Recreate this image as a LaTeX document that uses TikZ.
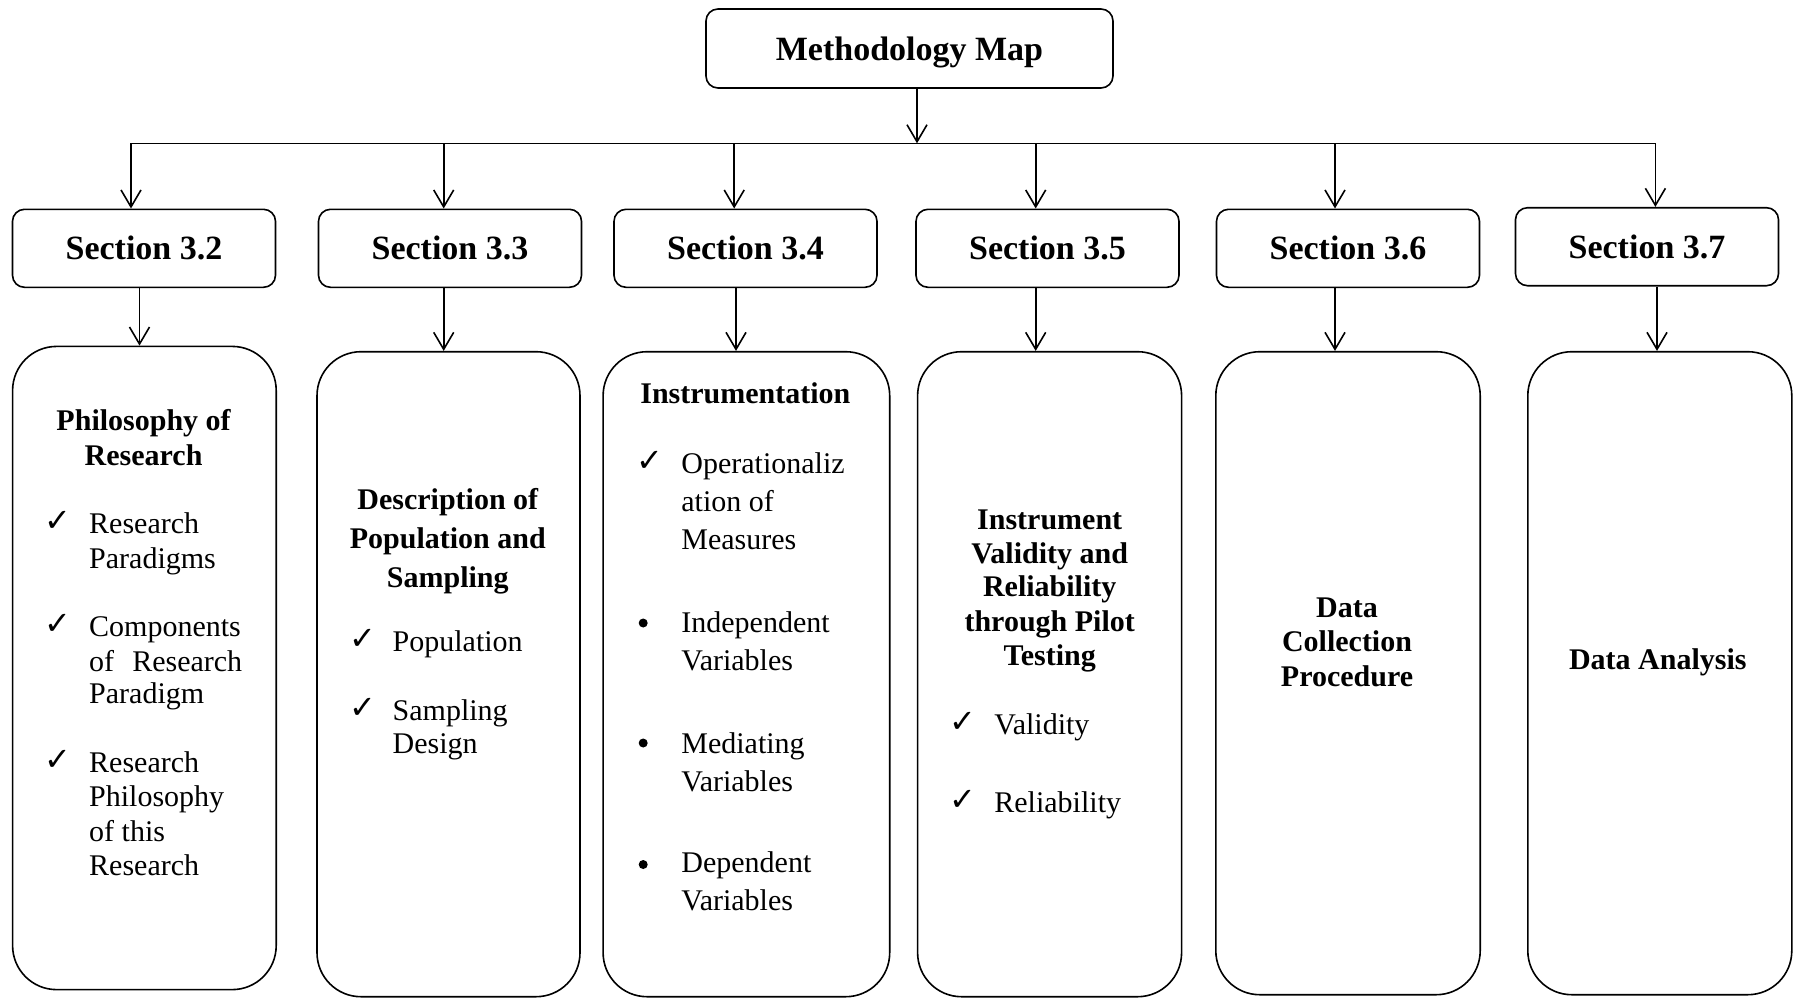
\documentclass[tikz,border=0pt]{standalone}
\usepackage{fontspec}
\setmainfont{Liberation Serif}
\newfontfamily\symfont{DejaVu Sans}
\usetikzlibrary{arrows.meta}
\tikzset{
 ln/.style={line width=0.8pt, draw=black},
 arr/.style={ln, -{Straight Barb[length=8.5pt,width=10pt]}},
 secbox/.style={draw, line width=0.8pt, rounded corners=6pt, minimum width=131.5pt, minimum height=39pt, inner sep=0pt, font=\fontsize{17}{20}\selectfont\bfseries},
 bigbox/.style={draw, line width=0.8pt, rounded corners=22pt, inner sep=0pt},
 head/.style={anchor=base, inner sep=0pt, font=\fontsize{15}{18}\selectfont\bfseries},
 itm/.style={anchor=base west, inner sep=0pt, font=\fontsize{15}{18}\selectfont},
 chk/.style={anchor=base west, inner sep=0pt, font=\fontsize{16}{18}\symfont},
 dot/.style={circle, fill=black, inner sep=0pt, minimum size=4.5pt},
}
\begin{document}
\begin{tikzpicture}[x=0.5pt, y=-0.5pt]
\useasboundingbox (0,0) rectangle (1794,998);

% top
\node[secbox, minimum width=203.5pt, minimum height=39.5pt, text depth=0pt] (top) at (909.5,48.5) {Methodology Map};

% sections
\node[secbox] (s32) at (144,248.3) {Section 3.2};
\node[secbox] (s33) at (450,248.3) {Section 3.3};
\node[secbox] (s34) at (745.5,248.3) {Section 3.4};
\node[secbox] (s35) at (1047.5,248.3) {Section 3.5};
\node[secbox] (s36) at (1348,248.3) {Section 3.6};
\node[secbox] (s37) at (1647,246.7) {Section 3.7};

% big boxes
\node[bigbox, minimum width=131.8pt, minimum height=321.6pt] (b1) at (144.4,668) {};
\node[bigbox, minimum width=131.5pt, minimum height=322.5pt] (b2) at (448.5,674.2) {};
\node[bigbox, minimum width=143.3pt, minimum height=322.5pt] (b3) at (746.4,674.2) {};
\node[bigbox, minimum width=132pt, minimum height=322.5pt] (b4) at (1049.6,674.2) {};
\node[bigbox, minimum width=132.2pt, minimum height=321.5pt] (b5) at (1348,673.2) {};
\node[bigbox, minimum width=132pt, minimum height=321.5pt] (b6) at (1659.8,673.2) {};

% connectors
\coordinate (hub) at (917,143.3);
\coordinate (j1) at (131,143.3);
\coordinate (j2) at (443.7,143.3);
\coordinate (j3) at (734.2,143.3);
\coordinate (j4) at (1035.7,143.3);
\coordinate (j5) at (1335,143.3);
\coordinate (j6) at (1655.4,143.3);
\draw[arr] (top.south -| hub) -- (hub);
\draw[ln] (j1) -- (j6);
\draw[arr] (j1) -- (j1 |- s32.north);
\draw[arr] (j2) -- (j2 |- s33.north);
\draw[arr] (j3) -- (j3 |- s34.north);
\draw[arr] (j4) -- (j4 |- s35.north);
\draw[arr] (j5) -- (j5 |- s36.north);
\draw[arr] (j6) -- (j6 |- s37.north);
\coordinate (k1) at (139.5,0);
\coordinate (k2) at (443.7,0);
\coordinate (k3) at (736,0);
\coordinate (k4) at (1035.7,0);
\coordinate (k5) at (1335,0);
\coordinate (k6) at (1657,0);
\draw[arr] (k1 |- s32.south) -- (k1 |- b1.north);
\draw[arr] (k2 |- s33.south) -- (k2 |- b2.north);
\draw[arr] (k3 |- s34.south) -- (k3 |- b3.north);
\draw[arr] (k4 |- s35.south) -- (k4 |- b4.north);
\draw[arr] (k5 |- s36.south) -- (k5 |- b5.north);
\draw[arr] (k6 |- s37.south) -- (k6 |- b6.north);

% box 1
\node[head] (h1a) at (143.6,430) {Philosophy of};
\node[head] (h1b) at (143.6,465) {Research};
\node[chk] (c1a) at (44,531) {✓};
\node[itm] (t1a) at (88.8,533) {Research};
\node[itm] (t1b) at (88.8,568) {Paradigms};
\node[chk] (c1b) at (44,634) {✓};
\node[itm] (t1c) at (88.8,636) {Components};
\node[itm] (t1d) at (88.8,671) {\makebox[76.5pt][s]{of Research}};
\node[itm] (t1e) at (88.8,703) {Paradigm};
\node[chk] (c1c) at (44,770) {✓};
\node[itm] (t1f) at (88.8,772) {Research};
\node[itm] (t1g) at (88.8,806.6) {Philosophy};
\node[itm] (t1h) at (88.8,841.5) {of this};
\node[itm] (t1i) at (88.8,875) {Research};

% box 2
\node[head] (h2a) at (447.8,509) {Description of};
\node[head] (h2b) at (447.8,548.6) {Population and};
\node[head] (h2c) at (447.8,587) {Sampling};
\node[chk] (c2a) at (349.3,649) {✓};
\node[itm] (t2a) at (392.3,651) {Population};
\node[chk] (c2b) at (349.3,718) {✓};
\node[itm] (t2b) at (392.3,720) {Sampling};
\node[itm] (t2c) at (392.3,753) {Design};

% box 3
\node[head] (h3a) at (745.4,403.8) {Instrumentation};
\node[chk] (c3a) at (636.3,471.4) {✓};
\node[itm] (t3a) at (681,473.4) {Operationaliz};
\node[itm] (t3b) at (681,511.5) {ation of};
\node[itm] (t3c) at (681,549.8) {Measures};
\node[dot] (d3a) at (643.2,623) {};
\node[itm] (t3d) at (681,632.5) {Independent};
\node[itm] (t3e) at (681,670.7) {Variables};
\node[dot] (d3b) at (643.2,743) {};
\node[itm] (t3f) at (681,753.3) {Mediating};
\node[itm] (t3g) at (681,791) {Variables};
\node[dot] (d3c) at (643.2,864.5) {};
\node[itm] (t3h) at (681,872) {Dependent};
\node[itm] (t3i) at (681,910.7) {Variables};

% box 4
\node[head] (h4a) at (1049.7,529.7) {Instrument};
\node[head] (h4b) at (1049.7,563) {Validity and};
\node[head] (h4c) at (1049.7,596.8) {Reliability};
\node[head] (h4d) at (1049.7,631.7) {through Pilot};
\node[head] (h4e) at (1049.7,665) {Testing};
\node[chk] (c4a) at (949.3,732.5) {✓};
\node[itm] (t4a) at (994,734.5) {Validity};
\node[chk] (c4b) at (949.3,810) {✓};
\node[itm] (t4b) at (994,812) {Reliability};

% box 5
\node[head] (h5a) at (1347,617) {Data};
\node[head] (h5b) at (1347,651.4) {Collection};
\node[head] (h5c) at (1347,686) {Procedure};

% box 6
\node[head] (h6a) at (1657.8,669.4) {Data Analysis};
\end{tikzpicture}
\end{document}
